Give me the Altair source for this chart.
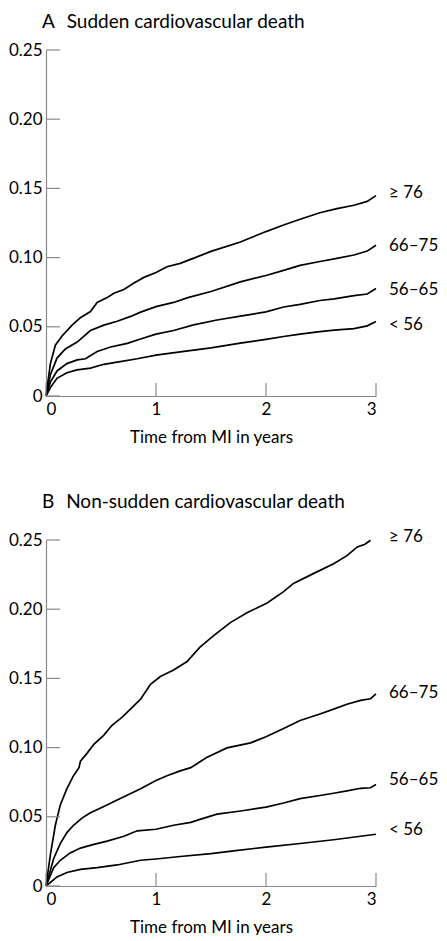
import altair as alt
import pandas as pd

FONT = "Lato"
AXIS_GREY = "#8a8a8a"

groups = ["≥ 76", "66–75", "56–65", "< 56"]

# Panel A: Sudden cardiovascular death
A_ge76_t = [0, 0.04, 0.085, 0.146, 0.237, 0.313, 0.404, 0.465, 0.556, 0.617, 0.708, 0.80, 0.89, 1.0, 1.10, 1.22, 1.35, 1.50, 1.767, 2.0, 2.16, 2.31, 2.49, 2.645, 2.80, 2.92, 3.0]
A_ge76_v = [0, 0.0234, 0.0367, 0.0434, 0.0512, 0.0566, 0.061, 0.0676, 0.0711, 0.0742, 0.077, 0.0817, 0.0857, 0.0892, 0.0934, 0.0958, 0.0998, 0.1045, 0.1113, 0.1188, 0.1235, 0.1277, 0.1324, 0.1354, 0.1378, 0.1406, 0.1448]
A_6675_t = [0, 0.04, 0.10, 0.176, 0.283, 0.404, 0.526, 0.647, 0.77, 0.86, 1.0, 1.16, 1.29, 1.5, 1.767, 2.0, 2.16, 2.31, 2.49, 2.62, 2.80, 2.92, 3.0]
A_6675_v = [0, 0.0154, 0.0274, 0.034, 0.039, 0.0473, 0.0512, 0.054, 0.0575, 0.0606, 0.0646, 0.0676, 0.0711, 0.0755, 0.0825, 0.0871, 0.0908, 0.0944, 0.0972, 0.0991, 0.1019, 0.1047, 0.1089]
A_5665_t = [0, 0.04, 0.10, 0.19, 0.283, 0.359, 0.465, 0.587, 0.739, 0.86, 1.0, 1.16, 1.342, 1.555, 1.767, 2.0, 2.16, 2.31, 2.49, 2.62, 2.80, 2.92, 3.0]
A_5665_v = [0, 0.0101, 0.0181, 0.0234, 0.0261, 0.0269, 0.0322, 0.0354, 0.038, 0.0412, 0.0447, 0.0473, 0.0514, 0.0549, 0.0577, 0.0608, 0.0643, 0.0662, 0.069, 0.0702, 0.0725, 0.0737, 0.0777]
A_lt56_t = [0, 0.04, 0.10, 0.19, 0.283, 0.404, 0.526, 0.647, 0.83, 1.0, 1.22, 1.5, 1.767, 2.0, 2.16, 2.31, 2.49, 2.62, 2.80, 2.92, 3.0]
A_lt56_v = [0, 0.0061, 0.0128, 0.0168, 0.0189, 0.0202, 0.0229, 0.0245, 0.0269, 0.0295, 0.0319, 0.0348, 0.0382, 0.0409, 0.043, 0.0447, 0.0465, 0.0476, 0.0487, 0.0507, 0.0538]
A_label_v = [0.1465, 0.1082, 0.0763, 0.051]

# Panel B: Non-sudden cardiovascular death
B_ge76_t = [0, 0.04, 0.085, 0.13, 0.19, 0.25, 0.30, 0.313, 0.374, 0.435, 0.526, 0.60, 0.693, 0.784, 0.86, 0.95, 1.04, 1.16, 1.28, 1.40, 1.524, 1.676, 1.827, 2.01, 2.16, 2.25, 2.43, 2.615, 2.736, 2.83, 2.90, 2.95]
B_ge76_v = [0, 0.0226, 0.0439, 0.0586, 0.0703, 0.0797, 0.0855, 0.0902, 0.096, 0.1024, 0.109, 0.1161, 0.122, 0.1291, 0.135, 0.1457, 0.1514, 0.1561, 0.162, 0.1726, 0.1809, 0.1903, 0.1974, 0.2045, 0.2127, 0.2186, 0.2257, 0.2328, 0.2387, 0.245, 0.2469, 0.2498]
B_6675_t = [0, 0.07, 0.13, 0.19, 0.25, 0.33, 0.40, 0.526, 0.647, 0.77, 0.86, 1.0, 1.10, 1.22, 1.316, 1.46, 1.645, 1.86, 2.0, 2.16, 2.31, 2.49, 2.615, 2.736, 2.86, 2.95, 3.0]
B_6675_v = [0, 0.0199, 0.0306, 0.0386, 0.0439, 0.0492, 0.0528, 0.0575, 0.0621, 0.0668, 0.0703, 0.0762, 0.0797, 0.0832, 0.0855, 0.0928, 0.0998, 0.1034, 0.1079, 0.1138, 0.1196, 0.1243, 0.1278, 0.1313, 0.1341, 0.1353, 0.1388]
B_5665_t = [0, 0.07, 0.13, 0.22, 0.313, 0.435, 0.556, 0.708, 0.83, 1.0, 1.16, 1.316, 1.40, 1.555, 1.77, 2.0, 2.16, 2.31, 2.49, 2.615, 2.736, 2.86, 2.95, 3.0]
B_5665_v = [0, 0.0133, 0.0186, 0.0239, 0.0274, 0.0301, 0.0324, 0.0359, 0.0399, 0.041, 0.0439, 0.046, 0.0481, 0.0519, 0.0542, 0.057, 0.06, 0.0631, 0.0654, 0.067, 0.0687, 0.0706, 0.071, 0.0734]
B_lt56_t = [0, 0.10, 0.19, 0.313, 0.465, 0.647, 0.86, 1.0, 1.22, 1.50, 1.706, 2.0, 2.31, 2.615, 3.0]
B_lt56_v = [0, 0.0066, 0.0098, 0.012, 0.0133, 0.0152, 0.0186, 0.0195, 0.0213, 0.0234, 0.0254, 0.0281, 0.0307, 0.0334, 0.0374]
B_label_v = [0.2521, 0.1397, 0.0763, 0.0403]

y_ticks = [0, 0.05, 0.10, 0.15, 0.20, 0.25]
x_ticks = [0, 1, 2, 3]
x_title = "Time from MI in years"
title_A = "A\u2002\u2009Sudden cardiovascular death"
title_B = "B\u2002\u2009Non-sudden cardiovascular death"

W, H = 330, 346


def panel(title, series, label_v, title_offset):
    rows = []
    for g, (ts, vs) in zip(groups, series):
        for t, v in zip(ts, vs):
            rows.append({"group": g, "t": t, "v": v})
    df = pd.DataFrame(rows)
    lab = pd.DataFrame({"group": groups, "t": [3] * 4, "v": label_v})
    yt = pd.DataFrame({"v": y_ticks})
    xt = pd.DataFrame({"t": x_ticks})

    xscale = alt.Scale(domain=[0, 3], nice=False)
    yscale = alt.Scale(domain=[0, 0.25], nice=False)

    lines = alt.Chart(df).mark_line(color="black", strokeWidth=1.7).encode(
        x=alt.X("t:Q", scale=xscale, axis=alt.Axis(
            values=x_ticks, format="d", ticks=False, grid=False,
            domainColor=AXIS_GREY, domainWidth=1.2,
            labelFont=FONT, labelFontSize=17, labelColor="black", labelPadding=5,
            title=x_title, titleFont=FONT, titleFontSize=17, titleFontWeight="normal",
            titleColor="black", titlePadding=12)),
        y=alt.Y("v:Q", scale=yscale, axis=alt.Axis(
            values=y_ticks, ticks=False, grid=False,
            labelExpr="datum.value == 0 ? '0' : format(datum.value, '.2f')",
            domainColor=AXIS_GREY, domainWidth=1.2,
            labelFont=FONT, labelFontSize=17, labelColor="black", labelPadding=4,
            title=None, minExtent=38, maxExtent=38)),
        detail="group:N",
    )
    ytick = alt.Chart(yt).mark_rule(color=AXIS_GREY, strokeWidth=1.2).encode(
        y="v:Q", x=alt.value(0), x2=alt.value(14))
    xtick = alt.Chart(xt).mark_rule(color=AXIS_GREY, strokeWidth=1.2).encode(
        x="t:Q", y=alt.value(H), y2=alt.value(H - 13))
    labels = alt.Chart(lab).mark_text(
        align="left", baseline="middle", dx=13, font=FONT, fontSize=17, color="black"
    ).encode(x="t:Q", y="v:Q", text="group:N")

    return alt.layer(lines, ytick, xtick, labels).properties(
        width=W, height=H,
        title=alt.TitleParams(text=title, anchor="start", frame="group", dx=-4, font=FONT,
                              fontSize=19, fontWeight="normal", color="black",
                              offset=title_offset),
    )


pA = panel(title_A, [(A_ge76_t, A_ge76_v), (A_6675_t, A_6675_v), (A_5665_t, A_5665_v), (A_lt56_t, A_lt56_v)], A_label_v, 9)
pB = panel(title_B, [(B_ge76_t, B_ge76_v), (B_6675_t, B_6675_v), (B_5665_t, B_5665_v), (B_lt56_t, B_lt56_v)], B_label_v, 16)

chart = alt.vconcat(pA, pB, spacing=48).configure_view(strokeWidth=0).properties(
    padding={"left": 0, "top": 5, "right": 0, "bottom": 0}
)

chart.save("out.html", embed_options={"renderer": "svg", "actions": False})
